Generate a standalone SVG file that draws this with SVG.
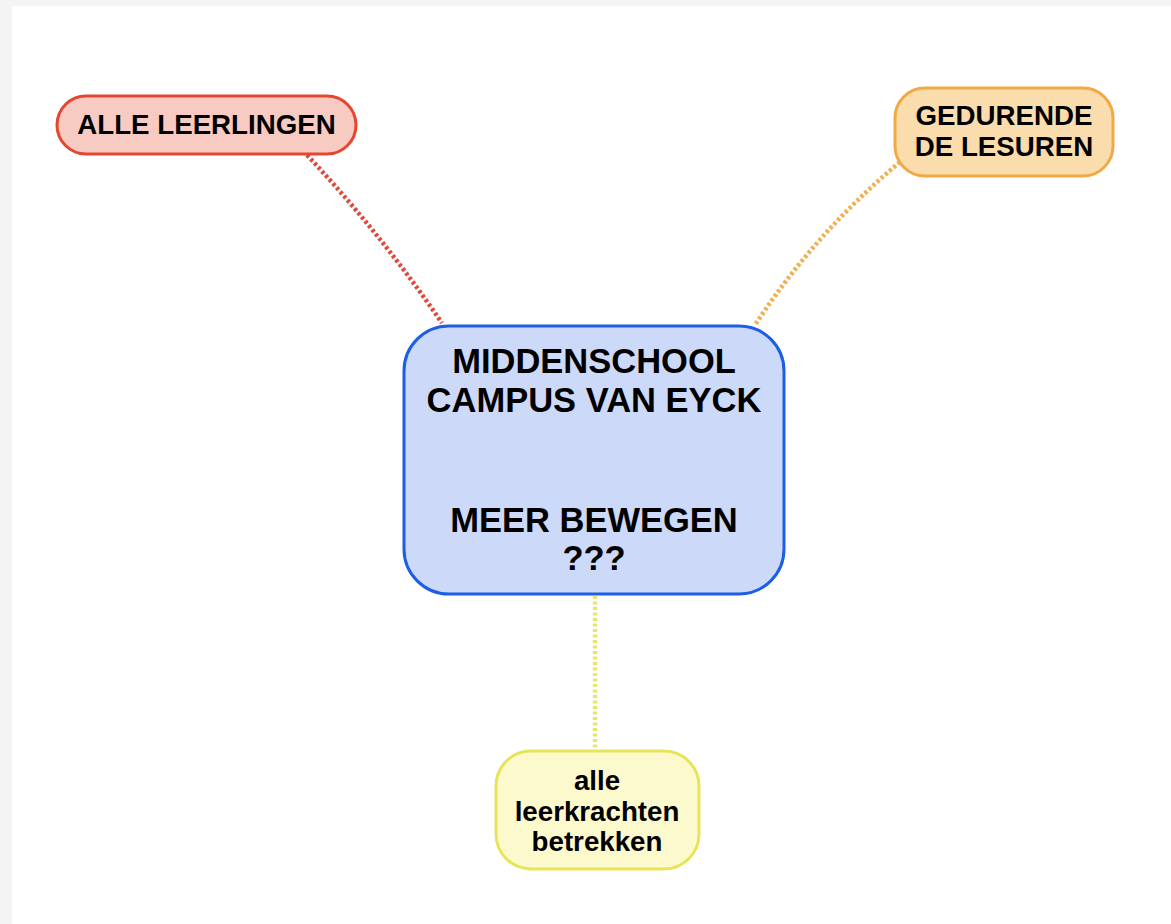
<svg xmlns="http://www.w3.org/2000/svg" width="1171" height="924" viewBox="0 0 1171 924">
<style>
text{font-family:"Liberation Sans",Arial,sans-serif;font-weight:bold;fill:#000;text-anchor:middle}
.t27{font-size:27.7px}
.t34{font-size:34.5px}
.conn{fill:none;stroke-width:4.5;stroke-dasharray:3 2.5}
</style>
<rect x="0" y="0" width="1171" height="924" fill="#f4f4f4"/>
<rect x="12" y="6" width="1159" height="918" fill="#ffffff"/>
<g id="connectors">
<path class="conn" d="M307,155 Q381,234 442,323" stroke="#e0493a"/>
<path class="conn" d="M900,162 Q815,233 755,325" stroke="#f0b050"/>
<path class="conn" d="M595,596 L595,748" stroke="#e9e66a"/>
</g>
<g id="node-leerlingen">
<rect x="57" y="96" width="299" height="58" rx="29" fill="#f7cbc2" stroke="#e5462f" stroke-width="3"/>
<text class="t27" x="206.5" y="134">ALLE LEERLINGEN</text>
</g>
<g id="node-lesuren">
<rect x="895" y="88" width="218" height="88" rx="30" fill="#fbdcac" stroke="#f0a944" stroke-width="3"/>
<text class="t27" x="1004" y="125">GEDURENDE</text>
<text class="t27" x="1004" y="156">DE LESUREN</text>
</g>
<g id="node-center">
<rect x="404" y="326" width="380" height="268" rx="45" fill="#cdd9f9" stroke="#1c5fe6" stroke-width="3"/>
<text class="t34" x="594" y="373">MIDDENSCHOOL</text>
<text class="t34" x="594" y="412">CAMPUS VAN EYCK</text>
<text class="t34" x="594" y="532">MEER BEWEGEN</text>
<text class="t34" x="594" y="570">???</text>
</g>
<g id="node-leerkrachten">
<rect x="496" y="751" width="203" height="118" rx="35" fill="#fcf9cc" stroke="#e8e459" stroke-width="3"/>
<text class="t27" x="597" y="790">alle</text>
<text class="t27" x="597" y="821">leerkrachten</text>
<text class="t27" x="597" y="851">betrekken</text>
</g>
</svg>
